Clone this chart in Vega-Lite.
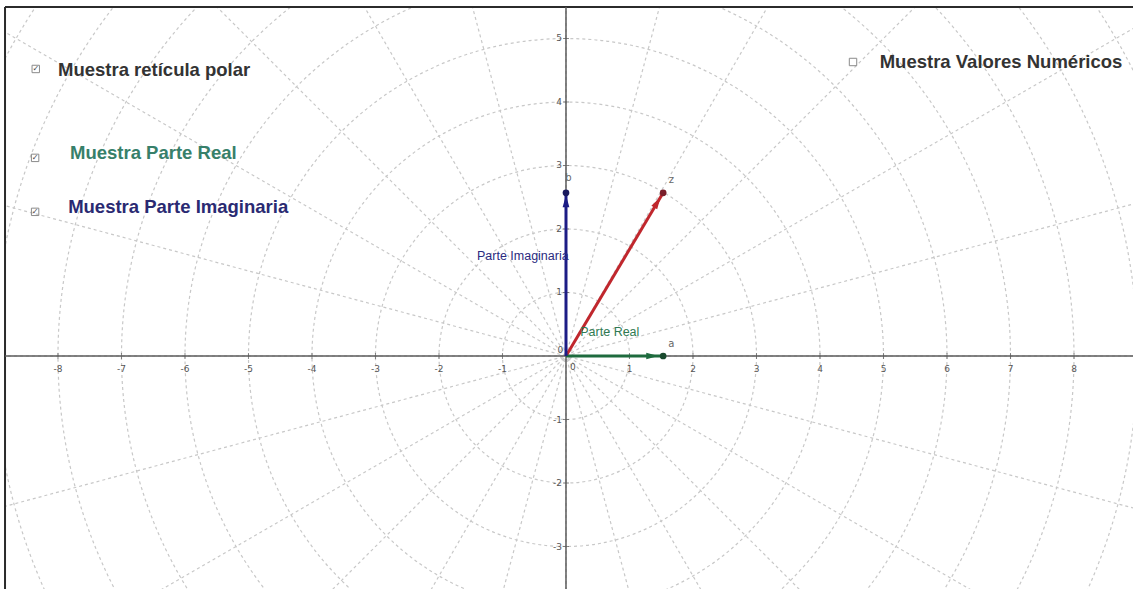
{
  "$schema": "https://vega.github.io/schema/vega-lite/v6.json",
  "width": 1133,
  "height": 589,
  "padding": 0,
  "autosize": {"type": "none"},
  "background": "white",
  "config": {"view": {"stroke": null}, "font": "Liberation Sans"},
  "datasets": {
    "circles": [
      {"r": 1, "x": 0, "y": 0}, {"r": 2, "x": 0, "y": 0}, {"r": 3, "x": 0, "y": 0},
      {"r": 4, "x": 0, "y": 0}, {"r": 5, "x": 0, "y": 0}, {"r": 6, "x": 0, "y": 0},
      {"r": 7, "x": 0, "y": 0}, {"r": 8, "x": 0, "y": 0}, {"r": 9, "x": 0, "y": 0},
      {"r": 10, "x": 0, "y": 0}, {"r": 11, "x": 0, "y": 0}
    ],
    "radials": [
      {"x": -12, "y": 0, "x2": 12, "y2": 0},
      {"x": -11.591, "y": -3.106, "x2": 11.591, "y2": 3.106},
      {"x": -10.392, "y": -6, "x2": 10.392, "y2": 6},
      {"x": -8.485, "y": -8.485, "x2": 8.485, "y2": 8.485},
      {"x": -6, "y": -10.392, "x2": 6, "y2": 10.392},
      {"x": -3.106, "y": -11.591, "x2": 3.106, "y2": 11.591},
      {"x": 0, "y": -12, "x2": 0, "y2": 12},
      {"x": 3.106, "y": -11.591, "x2": -3.106, "y2": 11.591},
      {"x": 6, "y": -10.392, "x2": -6, "y2": 10.392},
      {"x": 8.485, "y": -8.485, "x2": -8.485, "y2": 8.485},
      {"x": 10.392, "y": -6, "x2": -10.392, "y2": 6},
      {"x": 11.591, "y": -3.106, "x2": -11.591, "y2": 3.106}
    ],
    "outside": [
      {"x": -8.913, "y": -3.669, "x2": -8.834, "y2": 5.606},
      {"x": -8.913, "y": 5.496, "x2": 8.929, "y2": 5.606}
    ],
    "frame": [
      {"x": -8.834, "y": -3.8, "x2": -8.834, "y2": 5.496},
      {"x": -8.834, "y": 5.496, "x2": 9.0, "y2": 5.496}
    ],
    "axes": [
      {"x": -8.834, "y": 0, "x2": 9.0, "y2": 0},
      {"x": 0, "y": -3.8, "x2": 0, "y2": 5.496}
    ],
    "xticks": [
      {"x": -8, "y": 0, "label": "-8"}, {"x": -7, "y": 0, "label": "-7"},
      {"x": -6, "y": 0, "label": "-6"}, {"x": -5, "y": 0, "label": "-5"},
      {"x": -4, "y": 0, "label": "-4"}, {"x": -3, "y": 0, "label": "-3"},
      {"x": -2, "y": 0, "label": "-2"}, {"x": -1, "y": 0, "label": "-1"},
      {"x": 1, "y": 0, "label": "1"}, {"x": 2, "y": 0, "label": "2"},
      {"x": 3, "y": 0, "label": "3"}, {"x": 4, "y": 0, "label": "4"},
      {"x": 5, "y": 0, "label": "5"}, {"x": 6, "y": 0, "label": "6"},
      {"x": 7, "y": 0, "label": "7"}, {"x": 8, "y": 0, "label": "8"}
    ],
    "yticks": [
      {"x": 0, "y": -3, "label": "-3"}, {"x": 0, "y": -2, "label": "-2"},
      {"x": 0, "y": -1, "label": "-1"}, {"x": 0, "y": 1, "label": "1"},
      {"x": 0, "y": 2, "label": "2"}, {"x": 0, "y": 3, "label": "3"},
      {"x": 0, "y": 4, "label": "4"}, {"x": 0, "y": 5, "label": "5"}
    ],
    "zeros": [
      {"x": -0.09, "y": 0.09, "label": "0"},
      {"x": 0.11, "y": -0.17, "label": "0"}
    ],
    "vec": [
      {"id": "z", "x": 0, "y": 0, "x2": 1.53, "y2": 2.57},
      {"id": "a", "x": 0, "y": 0, "x2": 1.53, "y2": 0},
      {"id": "b", "x": 0, "y": 0, "x2": 0, "y2": 2.57}
    ],
    "ends": [
      {"id": "z", "x": 1.53, "y": 2.57},
      {"id": "a", "x": 1.53, "y": 0},
      {"id": "b", "x": 0, "y": 2.57}
    ],
    "heads": [
      {"id": "z", "x": 1.44, "y": 2.42},
      {"id": "a", "x": 1.36, "y": 0},
      {"id": "b", "x": 0, "y": 2.44}
    ],
    "ptlabels": [
      {"id": "z", "x": 1.66, "y": 2.77, "label": "z"},
      {"id": "b", "x": 0.04, "y": 2.81, "label": "b"},
      {"id": "a", "x": 1.66, "y": 0.19, "label": "a"}
    ],
    "partlabels": [
      {"id": "b", "x": -0.68, "y": 1.57, "label": "Parte Imaginaria"},
      {"id": "a", "x": 0.69, "y": 0.38, "label": "Parte Real"}
    ],
    "ui": [
      {"id": "polar", "x": -8.0, "y": 4.5, "label": "Muestra retícula polar"},
      {"id": "real", "x": -7.81, "y": 3.2, "label": "Muestra Parte Real"},
      {"id": "imag", "x": -7.84, "y": 2.35, "label": "Muestra Parte Imaginaria"},
      {"id": "num", "x": 4.94, "y": 4.63, "label": "Muestra Valores Numéricos"}
    ],
    "boxes": [
      {"id": "polar", "x": -8.35, "y": 4.52, "checked": "yes"},
      {"id": "real", "x": -8.36, "y": 3.12, "checked": "yes"},
      {"id": "imag", "x": -8.36, "y": 2.27, "checked": "yes"},
      {"id": "num", "x": 4.52, "y": 4.63, "checked": "no"}
    ]
  },
  "encoding": {
    "x": {"field": "x", "type": "quantitative", "scale": {"domain": [-8.913, 8.929], "nice": false, "zero": false}, "axis": null},
    "y": {"field": "y", "type": "quantitative", "scale": {"domain": [-3.669, 5.606], "nice": false, "zero": false}, "axis": null}
  },
  "layer": [
    {
      "data": {"name": "circles"},
      "mark": {"type": "point", "shape": "circle", "filled": false, "stroke": "#c8c8c8", "strokeWidth": 1.2, "strokeDash": [3, 3], "opacity": 1, "clip": true},
      "encoding": {
        "size": {"field": "r", "type": "quantitative", "scale": {"type": "pow", "exponent": 2, "domain": [0, 1], "range": [0, 16129]}, "legend": null}
      }
    },
    {
      "data": {"name": "radials"},
      "mark": {"type": "rule", "color": "#c8c8c8", "strokeWidth": 1.2, "strokeDash": [3, 3], "clip": true},
      "encoding": {"x2": {"field": "x2"}, "y2": {"field": "y2"}}
    },
    {
      "data": {"name": "outside"},
      "mark": {"type": "rect", "color": "white", "opacity": 1},
      "encoding": {"x2": {"field": "x2"}, "y2": {"field": "y2"}}
    },
    {
      "data": {"name": "frame"},
      "mark": {"type": "rule", "color": "#2b2b2b", "strokeWidth": 2},
      "encoding": {"x2": {"field": "x2"}, "y2": {"field": "y2"}}
    },
    {
      "data": {"name": "axes"},
      "mark": {"type": "rule", "color": "#5a5a5a", "strokeWidth": 1.5, "clip": true},
      "encoding": {"x2": {"field": "x2"}, "y2": {"field": "y2"}}
    },
    {
      "data": {"name": "xticks"},
      "mark": {"type": "tick", "orient": "vertical", "size": 6, "thickness": 1, "color": "#5a5a5a"}
    },
    {
      "data": {"name": "yticks"},
      "mark": {"type": "tick", "orient": "horizontal", "size": 6, "thickness": 1, "color": "#5a5a5a"}
    },
    {
      "data": {"name": "xticks"},
      "mark": {"type": "text", "fontSize": 9, "color": "#555555", "dy": 13, "align": "center", "baseline": "middle", "font": "DejaVu Sans"},
      "encoding": {"text": {"field": "label"}}
    },
    {
      "data": {"name": "yticks"},
      "mark": {"type": "text", "fontSize": 9, "color": "#555555", "dx": -4, "align": "right", "baseline": "middle", "font": "DejaVu Sans"},
      "encoding": {"text": {"field": "label"}}
    },
    {
      "data": {"name": "zeros"},
      "mark": {"type": "text", "fontSize": 9, "color": "#555555", "align": "center", "baseline": "middle", "font": "DejaVu Sans"},
      "encoding": {"text": {"field": "label"}}
    },
    {
      "data": {"name": "vec"},
      "transform": [{"filter": "datum.id === 'z'"}],
      "mark": {"type": "rule", "color": "#c0272d", "strokeWidth": 3},
      "encoding": {"x2": {"field": "x2"}, "y2": {"field": "y2"}}
    },
    {
      "data": {"name": "vec"},
      "transform": [{"filter": "datum.id === 'a'"}],
      "mark": {"type": "rule", "color": "#1e6b3e", "strokeWidth": 3},
      "encoding": {"x2": {"field": "x2"}, "y2": {"field": "y2"}}
    },
    {
      "data": {"name": "vec"},
      "transform": [{"filter": "datum.id === 'b'"}],
      "mark": {"type": "rule", "color": "#1c1c85", "strokeWidth": 3},
      "encoding": {"x2": {"field": "x2"}, "y2": {"field": "y2"}}
    },
    {
      "data": {"name": "heads"},
      "transform": [{"filter": "datum.id === 'z'"}],
      "mark": {"type": "point", "shape": "M0,-1L0.55,1L-0.55,1Z", "filled": true, "color": "#c0272d", "size": 150, "opacity": 1, "angle": 31}
    },
    {
      "data": {"name": "heads"},
      "transform": [{"filter": "datum.id === 'a'"}],
      "mark": {"type": "point", "shape": "M0,-1L0.55,1L-0.55,1Z", "filled": true, "color": "#1e6b3e", "size": 150, "opacity": 1, "angle": 90}
    },
    {
      "data": {"name": "heads"},
      "transform": [{"filter": "datum.id === 'b'"}],
      "mark": {"type": "point", "shape": "M0,-1L0.55,1L-0.55,1Z", "filled": true, "color": "#1c1c85", "size": 150, "opacity": 1, "angle": 0}
    },
    {
      "data": {"name": "ends"},
      "transform": [{"filter": "datum.id === 'z'"}],
      "mark": {"type": "point", "shape": "circle", "filled": true, "color": "#7a1f2b", "size": 45, "opacity": 1}
    },
    {
      "data": {"name": "ends"},
      "transform": [{"filter": "datum.id === 'a'"}],
      "mark": {"type": "point", "shape": "circle", "filled": true, "color": "#1a4a2e", "size": 45, "opacity": 1}
    },
    {
      "data": {"name": "ends"},
      "transform": [{"filter": "datum.id === 'b'"}],
      "mark": {"type": "point", "shape": "circle", "filled": true, "color": "#1a1a5e", "size": 45, "opacity": 1}
    },
    {
      "data": {"name": "ptlabels"},
      "mark": {"type": "text", "fontSize": 10, "color": "#666666", "align": "center", "baseline": "middle", "font": "DejaVu Sans"},
      "encoding": {"text": {"field": "label"}}
    },
    {
      "data": {"name": "partlabels"},
      "transform": [{"filter": "datum.id === 'b'"}],
      "mark": {"type": "text", "fontSize": 12.5, "color": "#2a2a80", "align": "center", "baseline": "middle", "font": "Liberation Sans"},
      "encoding": {"text": {"field": "label"}}
    },
    {
      "data": {"name": "partlabels"},
      "transform": [{"filter": "datum.id === 'a'"}],
      "mark": {"type": "text", "fontSize": 12.5, "color": "#2e7a52", "align": "center", "baseline": "middle", "font": "Liberation Sans"},
      "encoding": {"text": {"field": "label"}}
    },
    {
      "data": {"name": "boxes"},
      "mark": {"type": "square", "filled": false, "stroke": "#8a8a8a", "strokeWidth": 1, "size": 55, "opacity": 1}
    },
    {
      "data": {"name": "boxes"},
      "transform": [{"filter": "datum.checked === 'yes'"}],
      "mark": {"type": "text", "text": "✓", "fontSize": 8, "color": "#444444", "align": "center", "baseline": "middle", "font": "DejaVu Sans"}
    },
    {
      "data": {"name": "ui"},
      "transform": [{"filter": "datum.id === 'polar' || datum.id === 'num'"}],
      "mark": {"type": "text", "fontSize": 18.5, "fontWeight": "bold", "color": "#333333", "align": "left", "baseline": "middle", "font": "Liberation Sans"},
      "encoding": {"text": {"field": "label"}}
    },
    {
      "data": {"name": "ui"},
      "transform": [{"filter": "datum.id === 'real'"}],
      "mark": {"type": "text", "fontSize": 18.5, "fontWeight": "bold", "color": "#37806a", "align": "left", "baseline": "middle", "font": "Liberation Sans"},
      "encoding": {"text": {"field": "label"}}
    },
    {
      "data": {"name": "ui"},
      "transform": [{"filter": "datum.id === 'imag'"}],
      "mark": {"type": "text", "fontSize": 18.5, "fontWeight": "bold", "color": "#2a2a72", "align": "left", "baseline": "middle", "font": "Liberation Sans"},
      "encoding": {"text": {"field": "label"}}
    }
  ]
}
